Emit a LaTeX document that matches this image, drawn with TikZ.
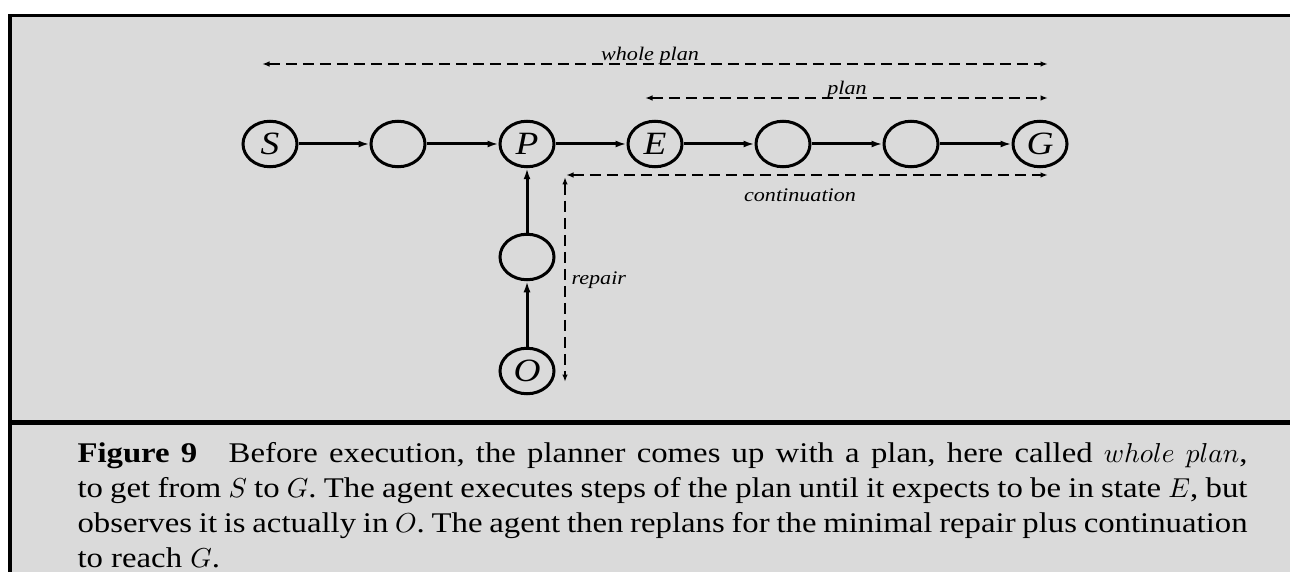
\documentclass[tikz,border=0pt]{standalone}
\usepackage{fontspec}
\setmainfont{Liberation Serif}[FakeStretch=1.15]
\usetikzlibrary{arrows.meta,shapes.geometric}
\definecolor{panel}{RGB}{218,218,218}

\begin{document}
\begin{tikzpicture}[
  x=0.4pt, y=-0.4pt,
  >={Latex[length=4.4pt,width=2.8pt]},
  state/.style={ellipse,draw,line width=1.2pt,minimum width=21.6pt,minimum height=18.2pt,
    inner sep=0pt,font=\fontsize{13}{14}\selectfont\itshape},
  trans/.style={->,line width=1.2pt},
  span/.style={{Latex[length=3pt,width=2.2pt]}-{Latex[length=3pt,width=2.2pt]},
    dash pattern=on 4.4pt off 2.4pt,line width=0.9pt},
  lab/.style={font=\fontsize{7.7}{9}\selectfont\itshape,inner sep=0pt}
]
\useasboundingbox (0,0) rectangle (1290,572);

% --- frame and grey panel
\fill[white] (0,0) rectangle (1290,572);
\fill[panel] (10,15.5) rectangle (1290,572);
\draw[line width=1.2pt] (8,15.5) -- (1290,15.5);
\draw[line width=1.6pt] (10,15) -- (10,572);
\draw[line width=2pt] (10,422.5) -- (1290,422.5);

% --- row of states
\def\yRow{144}
\node[state] (S)  at (270,\yRow) {S};
\node[state] (s1) at (398,\yRow) {};
\node[state] (P)  at (527,\yRow) {P};
\node[state] (E)  at (655,\yRow) {E};
\node[state] (e1) at (783,\yRow) {};
\node[state] (e2) at (911,\yRow) {};
\node[state] (G)  at (1040,\yRow) {G};

% --- repair branch
\node[state] (r1) at (527,257) {};
\node[state] (O)  at (527,371) {O};

\foreach \a/\b in {S/s1,s1/P,P/E,E/e1,e1/e2,e2/G,O/r1,r1/P}
   \draw[trans] (\a) -- (\b);

% --- spans (dashed)
\coordinate (wpL) at (262,64);  \coordinate (wpR) at (1048,64);
\coordinate (plL) at (645,98);  \coordinate (plR) at (1048,98);
\coordinate (cnL) at (566,175); \coordinate (cnR) at (1048,175);
\coordinate (rpT) at (565,177); \coordinate (rpB) at (565,382);

\draw[span] (wpL) -- (wpR);
\draw[span] (plL) -- (plR);
\draw[span] (cnL) -- (cnR);
\draw[span] (rpT) -- (rpB);

\node[lab,anchor=base] (tWhole) at (650,61) {whole plan};
\node[lab,anchor=base] (tPlan) at (847,95) {plan};
\node[lab,anchor=base] (tCont) at (800,202) {continuation};
\node[lab,anchor=base west] (tRep) at (571,284) {repair};

% --- caption
\node[anchor=base west,inner sep=0pt,text width=468pt,align=justify,
      font=\fontsize{11.4}{14}\selectfont\frenchspacing] (cap) at (77,462)
  {\textbf{Figure 9}\hspace{1.1em}Before execution, the planner comes up with a plan, here called $whole\ plan$,\linebreak
   to get from $S$ to $G$. The agent executes steps of the plan until it expects to be in state $E$, but\linebreak
   observes it is actually in $O$. The agent then replans for the minimal repair plus continuation\linebreak
   to reach $G$.};

\end{tikzpicture}
\end{document}
